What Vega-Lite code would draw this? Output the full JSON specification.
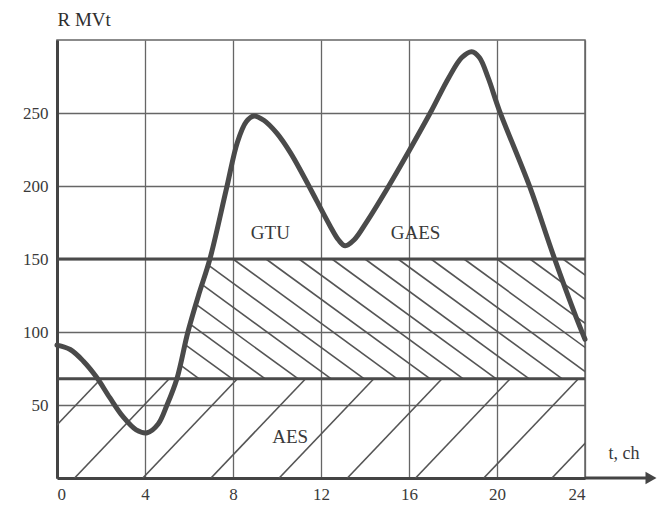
{
  "$schema": "https://vega.github.io/schema/vega-lite/v6.json",
  "width": 528,
  "height": 438,
  "autosize": {"type": "none"},
  "padding": {"left": 57, "top": 40, "right": 78, "bottom": 29},
  "background": "#ffffff",
  "config": {
    "view": {"stroke": "#666666", "strokeWidth": 1.5},
    "font": "Liberation Serif",
    "axis": {
      "labelFont": "Liberation Serif",
      "labelFontSize": 17,
      "labelColor": "#3a3a3a",
      "titleFont": "Liberation Serif",
      "titleFontSize": 18,
      "titleFontWeight": "normal",
      "titleColor": "#3a3a3a",
      "grid": true,
      "gridColor": "#666666",
      "gridWidth": 1.3,
      "gridOpacity": 1,
      "ticks": false,
      "domainColor": "#444444",
      "domainWidth": 3
    }
  },
  "datasets": {
    "load": [
      {"t": 0, "p": 91}, {"t": 0.6, "p": 88}, {"t": 1.2, "p": 80}, {"t": 1.8, "p": 69},
      {"t": 2.4, "p": 55}, {"t": 3.0, "p": 42}, {"t": 3.6, "p": 33}, {"t": 4.1, "p": 31},
      {"t": 4.6, "p": 37}, {"t": 5.0, "p": 50}, {"t": 5.45, "p": 68},
      {"t": 5.95, "p": 100}, {"t": 6.45, "p": 126}, {"t": 6.95, "p": 150}, {"t": 7.7, "p": 198},
      {"t": 8.2, "p": 230}, {"t": 8.6, "p": 244}, {"t": 8.95, "p": 248}, {"t": 9.4, "p": 245},
      {"t": 10.0, "p": 236}, {"t": 10.6, "p": 223}, {"t": 11.2, "p": 207}, {"t": 11.8, "p": 190},
      {"t": 12.4, "p": 173}, {"t": 12.8, "p": 163}, {"t": 13.1, "p": 159}, {"t": 13.5, "p": 163},
      {"t": 14.1, "p": 176}, {"t": 15.0, "p": 198}, {"t": 16.0, "p": 224}, {"t": 17.0, "p": 251},
      {"t": 17.8, "p": 274}, {"t": 18.4, "p": 288}, {"t": 18.85, "p": 292}, {"t": 19.2, "p": 288},
      {"t": 19.6, "p": 274}, {"t": 20.1, "p": 252}, {"t": 21.5, "p": 199}, {"t": 22.55, "p": 153},
      {"t": 23.6, "p": 110}, {"t": 24, "p": 95}
    ],
    "lowHatch": [
      {"t": -2.3, "p": 0, "t2": 2.0, "p2": 68},
      {"t": 0.8, "p": 0, "t2": 5.1, "p2": 68},
      {"t": 3.9, "p": 0, "t2": 8.2, "p2": 68},
      {"t": 7.0, "p": 0, "t2": 11.3, "p2": 68},
      {"t": 10.1, "p": 0, "t2": 14.4, "p2": 68},
      {"t": 13.2, "p": 0, "t2": 17.5, "p2": 68},
      {"t": 16.3, "p": 0, "t2": 20.6, "p2": 68},
      {"t": 19.4, "p": 0, "t2": 23.7, "p2": 68},
      {"t": 22.5, "p": 0, "t2": 26.8, "p2": 68}
    ],
    "midHatch": [
      {"t": 5.63, "p": 77.1, "t2": 6.45, "p2": 68},
      {"t": 5.87, "p": 90.9, "t2": 7.95, "p2": 68},
      {"t": 6.13, "p": 104.6, "t2": 9.45, "p2": 68},
      {"t": 6.37, "p": 118.4, "t2": 10.95, "p2": 68},
      {"t": 6.63, "p": 132.1, "t2": 12.45, "p2": 68},
      {"t": 6.88, "p": 145.8, "t2": 13.95, "p2": 68},
      {"t": 8.0, "p": 150, "t2": 15.45, "p2": 68},
      {"t": 9.5, "p": 150, "t2": 16.95, "p2": 68},
      {"t": 11.0, "p": 150, "t2": 18.45, "p2": 68},
      {"t": 12.5, "p": 150, "t2": 19.95, "p2": 68},
      {"t": 14.0, "p": 150, "t2": 21.45, "p2": 68},
      {"t": 15.5, "p": 150, "t2": 22.95, "p2": 68},
      {"t": 17.0, "p": 150, "t2": 24.45, "p2": 68},
      {"t": 18.5, "p": 150, "t2": 25.95, "p2": 68},
      {"t": 20.0, "p": 150, "t2": 27.45, "p2": 68},
      {"t": 21.5, "p": 150, "t2": 28.95, "p2": 68},
      {"t": 23.0, "p": 150, "t2": 30.45, "p2": 68}
    ],
    "bands": [{"p": 68}, {"p": 150}],
    "labels": [
      {"t": 9.7, "p": 168, "label": "GTU"},
      {"t": 16.3, "p": 168, "label": "GAES"},
      {"t": 10.6, "p": 28, "label": "AES"}
    ],
    "axisExt": [{"t": 24, "p": 0, "t2": 27.0, "p2": 0}],
    "arrow": [{"t": 27.0, "p": 0}]
  },
  "encoding": {
    "x": {
      "field": "t", "type": "quantitative",
      "scale": {"domain": [0, 24], "nice": false, "zero": false},
      "axis": {
        "values": [0, 4, 8, 12, 16, 20, 24],
        "labelPadding": 8,
        "title": "t, ch",
        "titleAlign": "left",
        "titleAnchor": null,
        "titleX": 551,
        "titleY": -20,
        "titleBaseline": "alphabetic"
      }
    },
    "y": {
      "field": "p", "type": "quantitative",
      "scale": {"domain": [0, 300], "nice": false},
      "axis": {
        "values": [50, 100, 150, 200, 250],
        "labelPadding": 9,
        "title": "R MVt",
        "titleAngle": 0,
        "titleAlign": "left",
        "titleAnchor": null,
        "titleX": 0,
        "titleY": -15,
        "titleFont": "Liberation Serif",
        "titleFontSize": 19,
        "titleFontWeight": "normal",
        "titleColor": "#2e2e2e",
        "titleBaseline": "alphabetic"
      }
    }
  },
  "layer": [
    {
      "data": {"name": "lowHatch"},
      "mark": {"type": "rule", "clip": true, "color": "#555555", "strokeWidth": 1.6},
      "encoding": {"x2": {"field": "t2"}, "y2": {"field": "p2"}}
    },
    {
      "data": {"name": "midHatch"},
      "mark": {"type": "rule", "clip": true, "color": "#555555", "strokeWidth": 1.6},
      "encoding": {"x2": {"field": "t2"}, "y2": {"field": "p2"}}
    },
    {
      "data": {"name": "bands"},
      "mark": {"type": "rule", "color": "#4a4a4a", "strokeWidth": 3},
      "encoding": {"x": null}
    },
    {
      "data": {"name": "axisExt"},
      "mark": {"type": "rule", "color": "#444444", "strokeWidth": 3},
      "encoding": {"x2": {"field": "t2"}, "y2": {"field": "p2"}}
    },
    {
      "data": {"name": "arrow"},
      "mark": {"type": "point", "shape": "triangle-right", "filled": true, "size": 160, "color": "#444444", "opacity": 1}
    },
    {
      "data": {"name": "load"},
      "mark": {"type": "line", "interpolate": "catmull-rom", "color": "#4a4a4a", "strokeWidth": 5, "strokeCap": "round", "strokeJoin": "round"}
    },
    {
      "data": {"name": "labels"},
      "mark": {"type": "text", "font": "Liberation Serif", "fontSize": 19, "color": "#3a3a3a", "align": "center", "baseline": "middle"},
      "encoding": {"text": {"field": "label"}}
    }
  ]
}
